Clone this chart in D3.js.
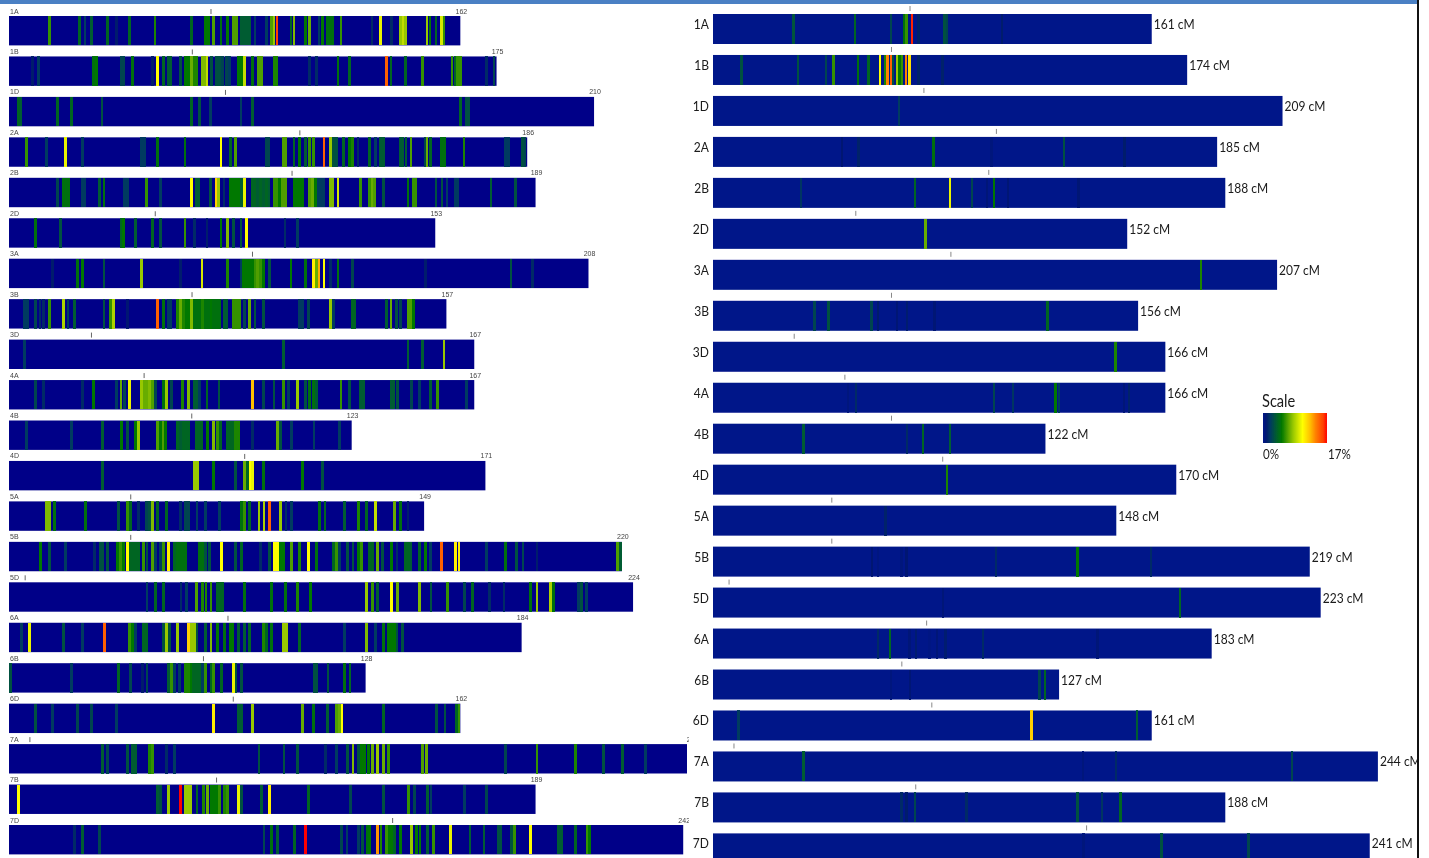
<!DOCTYPE html>
<html><head><meta charset="utf-8">
<script src="https://cdn.jsdelivr.net/npm/d3@7"></script>
<style>html,body{margin:0;padding:0;background:#fff;overflow:hidden}svg{display:block}</style>
</head><body><div id="chart"></div>
<script>
const chromosomes=["1A","1B","1D","2A","2B","2D","3A","3B","3D","4A","4B","4D","5A","5B","5D","6A","6B","6D","7A","7B","7D"];
const leftLengths=[162,175,210,186,189,153,208,157,167,167,123,171,149,220,224,184,128,162,245,189,242];
const rightLengths=[161,174,209,185,188,152,207,156,166,166,122,170,148,219,223,183,127,161,244,188,241];
const leftCentromeres=[72.5,65.8,77.7,104.4,101.6,52.5,87.4,65.7,29.6,48.5,65.6,84.6,43.7,43.7,5.8,78.6,69.8,80.5,7.5,74.5,137.7];
const rightCentromeres=[72.3,65.5,77.4,104,101.2,52.4,87.3,65.5,29.8,48.4,65.5,84.3,43.6,43.6,5.9,78.4,69.3,80.3,7.7,74.4,137.1];
const scaleStops=[0,1,2,3.5,5,6.5,8,10.5,12.5,14,16,17];
const scaleColors=["#021a6c","#063a60","#005c30","#007800","#4f9f00","#98c800","#ffff00","#ffc000","#ff8000","#ff4000","#ff0000"];

// Left panel: [cM, % ]
const L1A=[[13.9,6],[24.7,4],[26.8,2],[29,3.5],[34.8,4],[38.2,1],[42.7,4],[51.9,5.5],[65,4],[70,5],[71,5],[72.8,6.5],[75.6,4.5],[77.9,5],[80.1,6.5],[81.1,6.5],[83,3.5],[84,3.5],[85,3.5],[86,3.5],[87.8,2],[91.8,2],[93.8,6.5],[94.6,8],[95.7,16],[100.7,4],[101.8,7.5],[105.8,5],[107.5,7],[110.8,2],[112,5],[113.7,4.5],[114.7,4.5],[115.7,4.5],[118.7,6],[129.8,1.5],[132.8,10],[136.8,1.5],[139.9,8],[140.9,9],[141.9,8],[149.5,8],[150.6,5],[152.8,4],[154.6,9.5],[155.6,6]];
const L1B=[[7.8,1],[10.1,2],[29.8,4.5],[30.8,5],[39.7,2.5],[40.7,2.5],[43.7,4.5],[51,1],[52.8,10.5],[54.9,4],[56.6,3.5],[57.6,3.5],[61,3],[62.8,5],[63.8,5],[65,7],[66,5.5],[67,5.5],[68.8,7.5],[69.6,7.5],[70.6,9],[72.2,3],[74,3],[75,3],[76.2,2.5],[77.5,2.5],[78.7,2],[81.8,5],[82.8,5],[83.1,5],[84.1,9],[86.8,4.5],[89,6.5],[90,6.5],[94.6,5.5],[95.6,5.5],[107.5,1.5],[109.8,1.5],[117.6,4.5],[121.6,4],[134.9,15],[136.6,4],[141.7,4],[147.8,6],[158.5,6],[159.6,4],[160.6,6],[161.6,6],[170.8,1.5],[173.6,2.5]];
const L1D=[[2.8,4],[3.8,3.5],[16.9,4],[21.8,4],[32.9,3],[65,4],[67.8,3],[71.8,2],[82.8,2],[86.8,3.5],[161.7,4],[163.6,3],[164.6,3]];
const L2A=[[5.7,6],[12.9,2],[19.7,10],[25.8,2],[47,2],[48,2],[52.8,4.5],[62.7,4.5],[75.6,10.5],[78.9,4],[80.7,6.5],[91.8,2.5],[92.8,2.5],[97.9,6.5],[98.9,6.5],[101.8,4],[103.7,5],[105.8,3.5],[107.5,6],[108.8,6],[112.6,15],[114.8,8],[116,3],[117,3],[119.7,4],[121.6,5],[122.8,5.5],[124.8,1.5],[128.8,4],[131,2],[132.8,3.5],[133.8,3.5],[139.9,3.5],[140.9,3.5],[142,3.5],[143.8,6.5],[148.9,2.5],[149.5,7],[150.8,4],[154.7,4.5],[155.7,4.5],[162.8,5.5],[177.7,2],[178.7,2],[183.7,3],[184.7,2.5]];
const L2B=[[16.9,2.5],[19,4.5],[20,4.5],[21,4.5],[25.8,2],[26.8,2],[31.9,3.5],[33.6,4.5],[40.9,2],[41.9,2],[48.8,6],[53.9,2],[65,10.5],[66.7,3.5],[67.7,3.5],[71.8,3],[73.9,12],[74.8,8],[76.7,1.5],[78.9,5],[79.9,5],[80.9,5],[81.9,5],[82.9,3.5],[84.1,10],[86.8,4],[87.8,4],[88.8,3.5],[89.8,4],[90.8,3.5],[91.8,4],[92.8,3.5],[94.6,6],[95.6,6],[96.6,5],[97.7,6.5],[98.7,6.5],[101.8,5],[102.8,5],[103.8,5],[104.8,5],[107.5,6.5],[108.5,7],[109.5,5],[110.5,2],[111.5,2],[112.5,2],[114.8,7.5],[115.8,7.5],[117.6,9.5],[125.8,6],[128.8,6],[129.8,7],[130.8,6.5],[133.8,3],[142.7,4.5],[144.5,6],[145.5,6],[152.8,3],[154.9,3],[156.7,2],[159.6,2],[160.6,2],[172.5,3.5],[181.4,3]];
const L2D=[[8.9,4.5],[17.9,3],[39.7,4],[40.7,5],[44.8,3.5],[50.9,4],[53.9,3],[62.7,6],[66,1.5],[70.6,1],[75.6,5],[77.9,7.5],[80.1,3],[82.8,3],[84.7,10.5],[98.6,1.5],[103.1,2]];
const L3A=[[15,1],[24,4.5],[25.8,5],[33.6,3],[47,8],[61,1],[68.8,9.5],[77.9,5.5],[82.8,2],[83.8,5],[84.8,5],[85.8,5],[86.8,5],[87.8,6],[88.8,6.5],[89.8,6],[90.8,5],[92.9,3],[100.7,5],[105.8,4.5],[108.7,11],[109.8,7],[110.8,13],[112.6,10.5],[114.8,1.5],[117.6,4.5],[122.7,2.5],[149,1],[179.7,3],[187.5,1.5]];
const L3B=[[5,2],[6,2],[9,2.5],[10.6,1.5],[12,1.5],[13.9,6],[19,8.5],[20.7,2],[23,3.5],[33.6,3],[35.9,6],[36.9,8.5],[42,.8],[52.8,15],[54.9,4.5],[56.6,2],[57.6,2],[60,5.5],[61.1,7],[62.2,5.5],[63.2,5],[64,5],[65,7.5],[66,4.5],[67,4.5],[68,4.5],[69,5.5],[70,4.5],[71,4.5],[72,5],[73,4.5],[74,4.5],[75,4.5],[76.7,3.5],[77.7,3.5],[80.1,6],[81.1,6],[82.1,6],[84.1,2.5],[85.8,7],[87.8,3],[90.8,3],[103.8,2],[104.8,2],[107,2.5],[114.8,8],[116,2],[122.7,4],[123.7,4],[134.9,3.5],[136.6,7],[138.6,3],[139.9,2.5],[142.7,6.5],[143.7,6.5],[144.6,5]];
const L3D=[[5,2],[97.9,3.5],[142.7,3.5],[147.8,3.5],[155.6,8]];
const L4A=[[9,2.5],[11.8,1.5],[25.8,1.5],[29.8,5],[38,2],[39.7,7],[40.9,2.5],[42.8,10],[47,8],[48,7],[49,7],[50,7.5],[51,6.5],[52,2.5],[54.9,4.5],[55.9,8],[57.9,2.5],[61.7,5.5],[63.8,7.5],[66,3.5],[67,3.5],[68,2],[70.6,4],[74.9,3],[86.8,12.5],[90.8,2.5],[94.6,3],[97.9,6],[99.9,2],[103.1,8],[105.8,3],[107.5,4.5],[108.8,4.5],[109.8,3.5],[118.7,6],[121.7,3],[125.8,3.5],[126.8,3.5],[136.6,3.5],[137.6,3.5],[138.9,3],[143.9,2.5],[146.8,2],[150.8,3.5],[153.2,6],[163.6,2]];
const L4B=[[5.8,2],[21.9,2],[33.1,3.5],[39.9,5],[42,3],[45,5],[45.9,8],[52.8,6.5],[53.8,5],[54.8,6.5],[55.8,5],[60,4],[61,3.5],[62,4],[63,4],[64,4],[66.7,4],[67.7,4],[68.7,4],[70.7,5],[72.9,7.5],[74.2,6],[75.5,4],[78,4],[79,4],[80,4],[80.8,5.5],[82,5.5],[87,1.5],[95.8,7],[97,3],[101,2],[109,2],[118,2]];
const L4D=[[33.1,3.5],[66.1,8],[67.1,8],[72.9,5],[80.8,3],[84,7],[85,4],[86,10.5],[87,10],[90.8,4.5],[104.8,5],[112,3]];
const L5A=[[12.9,7.5],[14,7.5],[15.7,4.5],[26.9,4.5],[38.8,3],[42,6],[43,4],[46,1.5],[48.9,2.5],[50,3],[51,7.5],[52.8,4],[56,4],[61,1.5],[62.8,2.5],[64,2.5],[67,2],[70,2],[75,2],[82.9,4.5],[84,6],[85.9,4],[89.2,8],[91,8.5],[93,15],[97,8],[98.9,1.5],[101,2],[111,4.5],[112.9,4],[120,3.5],[125,5.5],[127.9,4],[131,9],[138,7],[140,4.5],[142.7,1]];
const L5B=[[10.8,5],[14,3],[19.8,2],[30.1,1.5],[32.2,3],[33.1,3],[34.8,3],[38.5,5],[39.5,6],[40.5,5],[41.9,10.5],[43,4],[44,4],[45,4],[46,4],[47.8,6],[49,3],[51,6.5],[52,2],[53.9,2],[55,6],[56.8,11],[58.9,4],[60,4.5],[61,4.5],[62,4.5],[63,4.5],[67.9,4.5],[68.9,4.5],[69.9,3],[71.4,3],[75.8,10.5],[80.8,3],[82.9,4],[89.8,1.5],[93,3],[94.7,10.5],[95.8,10.5],[97,5],[98,5],[100.9,6.5],[103.9,5.5],[107,10.5],[110,4.5],[116,4],[117.1,6],[118,2],[121,3],[123,3],[125,5],[126,6],[128.9,4],[130,4],[131.8,7],[133.7,3],[136.8,5],[138.8,1.5],[141.8,4],[142.8,4],[143.8,3.5],[146.9,4],[149,5],[150.8,2],[154.8,15],[159.8,11],[161,11],[171,2],[177.7,4.5],[181.6,3],[184,2.5],[189,1],[217.9,6.5],[219,3.5]];
const L5D=[[49,2],[52,4],[55,4],[61.2,1.5],[63.1,2],[66.9,6.5],[69,5.5],[70.2,5.5],[72,6],[74.2,4],[75.2,4],[76.2,4],[84,4.5],[93.8,4.5],[98.8,4.5],[103,5.5],[107.7,5],[127.9,8],[130,6],[131.9,3.5],[136.7,10.5],[139,7],[146.9,7.5],[151,3],[157,6],[163,2.5],[165.8,4],[172,1.5],[177.2,1.5],[186.7,4.5],[189,8],[194,8.5],[195,4.5],[204,2],[205,3],[206.7,2]];
const L6A=[[4,2],[6.9,10],[19,3],[26,2],[33.8,15],[42.7,6],[43.8,5],[45,2],[47.8,4],[48.8,4],[55,3],[56,8],[57,3],[60,8],[63.9,12],[65,8],[66,8],[67,3],[70,3.5],[72,7.5],[74.2,5],[76.9,4.5],[78.9,5],[79.9,5],[82,3.5],[84,3.5],[85.9,4],[90.8,5.5],[91.9,4],[93.8,4.5],[98,8],[99,8],[103.7,4],[120,2],[127.9,7.5],[131,2],[133.9,4.5],[135.8,5],[136.8,5],[137.8,5],[138.8,3],[140.7,3]];
const L6B=[[0,3],[22,2],[38.8,4],[43,2.5],[47.3,1],[49,2.5],[56.8,3.5],[57.8,6],[59,2],[60.8,2],[62.8,5.5],[63.8,5.5],[64.8,5],[65.8,4],[66.8,4],[67.8,4],[69,2],[70.1,6],[72,4],[73,6],[75.8,4],[80,10],[81,3],[82.9,3],[109,3],[110,3],[114,3],[120,4.5],[121.9,4]];
const L6D=[[9,3],[15,2],[24,2.5],[29,2.5],[38,2],[73,11],[82,3.5],[83,3.5],[86.8,8],[104.9,7],[108.8,4.5],[113.8,3.5],[117,6.5],[118,7],[119,10.5],[133.9,4],[153,3],[156,3],[160,4],[161,6]];
const L7A=[[33.1,3.5],[34.8,2.5],[42,3],[43.9,3.5],[45,3.5],[50,5.5],[51,6],[56,1.5],[58.9,2],[89.2,3],[98.2,3],[103,3],[113,1.5],[117,2],[121,3],[123,7.5],[125,3],[126,5],[127,5],[128.6,5],[130,7],[131.8,8],[133.9,7],[135.7,6],[148,6.5],[149.4,7],[177.7,2.5],[189,6],[202.8,5.5],[212.9,3],[219.8,3.5],[228,2]];
const L7B=[[2.9,10.5],[52.9,3.5],[54,3],[56.8,8],[61,17],[62.8,8],[63.8,8],[64.8,8],[67,4],[69.2,5.5],[70.7,7],[72,5],[73,5],[74,5],[75,6],[76.9,5.5],[78,6],[82,10],[83,3],[90,3.5],[93,11],[107,4],[122,2.5],[134,3],[143,6],[145,2.5],[149.7,3.5],[151,2],[163,2],[171,2.5]];
const L7D=[[23,1.5],[26,3.5],[32,2.5],[91,2.5],[93.8,4.5],[95.8,3.5],[102,4],[106,17],[118.9,2.5],[120.8,2],[125,2],[126.3,3],[128,4.5],[129,5],[131.7,13.5],[133,5.5],[135,6],[136,5],[137,5],[138,4],[139.9,5],[144,8],[145.8,5],[147,5],[149.7,3.5],[152,6],[158,10],[165,3.5],[170,3.5],[175,3],[176,3],[180,3],[181,6],[186.7,10.5],[196.8,3.5],[197.8,3.5],[202.8,4],[207,6],[208,5]];

// Right panel: [cM, %]
const R1A=[[29.1,3.2],[51.7,4],[64.8,2.5],[69.7,4.5],[70.6,6],[72.5,16.5],[75,1.2],[84.5,3],[85.5,2.5],[105.6,1]];
const R1B=[[10,3],[30.8,3],[41,2.5],[43.7,6],[52.8,4.5],[56.6,4],[60.8,10.5],[62.6,5.5],[63.6,14],[64.8,15],[65.7,3],[67,8],[68,5],[69,6],[70.4,14],[71.6,11.5],[75,1.2],[83.8,1.2]];
const R1D=[[67.8,2]];
const R2A=[[46.9,.8],[53,1.2],[80.5,4.5],[101.7,.5],[128.4,3],[150.5,1]];
const R2B=[[31.9,1.8],[73.7,4],[86.6,10],[94.6,2.5],[100,.6],[102.6,5],[107.8,.7],[133.6,.7]];
const R2D=[[77.5,7]];
const R3A=[[178.7,5.5]];
const R3B=[[36.8,2.5],[42,3],[57.7,2.5],[60,1],[67,.7],[70.7,.9],[80.8,.7],[122.3,4]];
const R3D=[[147.2,5.5]];
const R4A=[[49,.4],[52,1.5],[102.6,2.5],[109.6,1.8],[125.3,5],[126.5,2],[150.3,.6],[152.3,1.2]];
const R4B=[[32.8,3.5],[70.7,1.5],[76.7,4],[86.6,3.5]];
const R4D=[[85.5,5.5]];
const R5A=[[62.9,1.2]];
const R5B=[[57.8,.8],[60,.3],[68.8,.5],[70.5,.8],[103.5,1.5],[133.3,5],[160.3,1.5]];
const R5D=[[84,.6],[171,4]];
const R6A=[[60,1.5],[64.6,4],[71.6,.6],[74,.9],[79,.2],[81.7,.6],[84.8,.9],[98.6,1.5],[140.6,.6]];
const R6B=[[64.8,.4],[71.8,.7],[119.3,2.5],[121.3,4]];
const R6D=[[8.9,2],[116.4,12],[155.2,3.5]];
const R7A=[[32.8,3.5],[135.4,.5],[147.4,1.5],[212,2.5]];
const R7B=[[68.8,1.5],[70.6,1],[73.7,2.5],[92.5,1.5],[133.3,3],[142.3,1.8],[149.1,4]];
const R7D=[[135.5,.5],[164.1,3],[196,2.5]];

const leftBins=[L1A,L1B,L1D,L2A,L2B,L2D,L3A,L3B,L3D,L4A,L4B,L4D,L5A,L5B,L5D,L6A,L6B,L6D,L7A,L7B,L7D];
const rightBins=[R1A,R1B,R1D,R2A,R2B,R2D,R3A,R3B,R3D,R4A,R4B,R4D,R5A,R5B,R5D,R6A,R6B,R6D,R7A,R7B,R7D];

const W=1429,H=858;
const svg=d3.select("#chart").append("svg").attr("width",W).attr("height",H);
const defs=svg.append("defs");
const clip=(id,x,w)=>defs.append("clipPath").attr("id",id).append("rect").attr("x",x).attr("y",0).attr("width",w).attr("height",H);
clip("clipBarsL",0,687); clip("clipTextL",0,689); clip("clipR",688,729);
const blur=(id,sd)=>defs.append("filter").attr("id",id).attr("filterUnits","userSpaceOnUse").attr("x",0).attr("y",0).attr("width",W).attr("height",H)
  .append("feGaussianBlur").attr("stdDeviation",sd);
blur("softL","0.45 0.3"); blur("softR","0.35 0.25");

const colorFor=base=>d3.scaleLinear().domain(scaleStops).range([base,...scaleColors]).clamp(true);
const colL=colorFor("#000088"), colR=colorFor("#001689");

// narrow label helper: the reference text is a condensed humanist face
function label(sel,x,y,txt,size,anchor,fill){
  return sel.append("text").attr("transform",`translate(${x},${y}) scale(.86,1)`).attr("text-anchor",anchor||"start")
    .attr("font-family","Lato").attr("font-size",size).attr("fill",fill||"#1a1a1a").text(txt);
}

// Left panel
const xL=d3.scaleLinear().domain([0,245]).range([9,9+245*2.786]);
const yL=d3.scaleBand().domain(chromosomes).range([16,16+20*40.45+29.4]).paddingInner(1-29.4/40.45).paddingOuter(0);
const softL=svg.append("g").attr("filter","url(#softL)");
const gL=softL.append("g").attr("clip-path","url(#clipBarsL)");
const tL=softL.append("g").attr("clip-path","url(#clipTextL)");
chromosomes.forEach((c,i)=>{
  const g=gL.append("g");
  const top=yL(c),h=yL.bandwidth();
  g.append("rect").attr("x",xL(0)).attr("y",top).attr("width",xL(leftLengths[i])-xL(0)).attr("height",h).attr("fill","#000088");
  g.selectAll(".b").data(leftBins[i]).join("rect").attr("shape-rendering","crispEdges")
    .attr("x",d=>xL(d[0])).attr("y",top).attr("width",d=>xL(d[0]+1)-xL(d[0])).attr("height",h).attr("fill",d=>colL(d[1]));
  g.append("line").attr("x1",xL(leftCentromeres[i])).attr("x2",xL(leftCentromeres[i])).attr("y1",top-7).attr("y2",top-2).attr("stroke","#666").attr("stroke-width",1);
  tL.append("text").attr("x",10).attr("y",top-2.5).attr("font-family","Liberation Sans").attr("font-size",7).attr("fill","#444").text(c);
  tL.append("text").attr("x",xL(leftLengths[i])+1).attr("y",top-2.5).attr("text-anchor","middle").attr("font-family","Liberation Sans").attr("font-size",7).attr("fill","#444").text(leftLengths[i]);
});

// Right panel
const xR=d3.scaleLinear().domain([0,244]).range([713,713+244*2.725]);
const yR=d3.scaleBand().domain(chromosomes).range([14,14+20*40.97+30]).paddingInner(1-30/40.97).paddingOuter(0);
const gR=svg.append("g").attr("filter","url(#softR)").append("g").attr("clip-path","url(#clipR)");
chromosomes.forEach((c,i)=>{
  const g=gR.append("g");
  const top=yR(c),h=yR.bandwidth();
  g.append("rect").attr("x",xR(0)).attr("y",top).attr("width",xR(rightLengths[i])-xR(0)).attr("height",h).attr("fill","#001689");
  g.selectAll(".b").data(rightBins[i]).join("rect").attr("shape-rendering","crispEdges")
    .attr("x",d=>xR(d[0])).attr("y",top).attr("width",d=>xR(d[0]+.9)-xR(d[0])).attr("height",h).attr("fill",d=>colR(d[1]));
  g.append("line").attr("x1",xR(rightCentromeres[i])).attr("x2",xR(rightCentromeres[i])).attr("y1",top-8).attr("y2",top-3).attr("stroke","#888").attr("stroke-width",1);
  label(g,709,top+15,c,14,"end");
  label(g,xR(rightLengths[i])+2,top+15,rightLengths[i]+" cM",14);
});

// Legend
const grad=defs.append("linearGradient").attr("id","scaleGrad");
const gradPct=d3.scaleLinear().domain([0,17]).range([0,1]);
grad.append("stop").attr("offset",0).attr("stop-color","#001689");
scaleStops.slice(1).forEach((s,i)=>grad.append("stop").attr("offset",gradPct(s)).attr("stop-color",scaleColors[i]));
const legX=d3.scaleLinear().domain([0,17]).range([1263,1327]);
const leg=svg.append("g").attr("filter","url(#softR)");
leg.append("rect").attr("x",legX(0)).attr("y",413).attr("width",legX(17)-legX(0)).attr("height",30).attr("fill","url(#scaleGrad)");
label(leg,1262,406.5,"Scale",17);
label(leg,1263,459,"0%",13.5);
label(leg,1328,459,"17%",13.5);

// Frame
svg.append("rect").attr("x",0).attr("y",0).attr("width",1418).attr("height",4).attr("fill","#4a80c4");
svg.append("rect").attr("x",1417).attr("y",0).attr("width",2).attr("height",H).attr("fill","#111");
</script></body></html>
